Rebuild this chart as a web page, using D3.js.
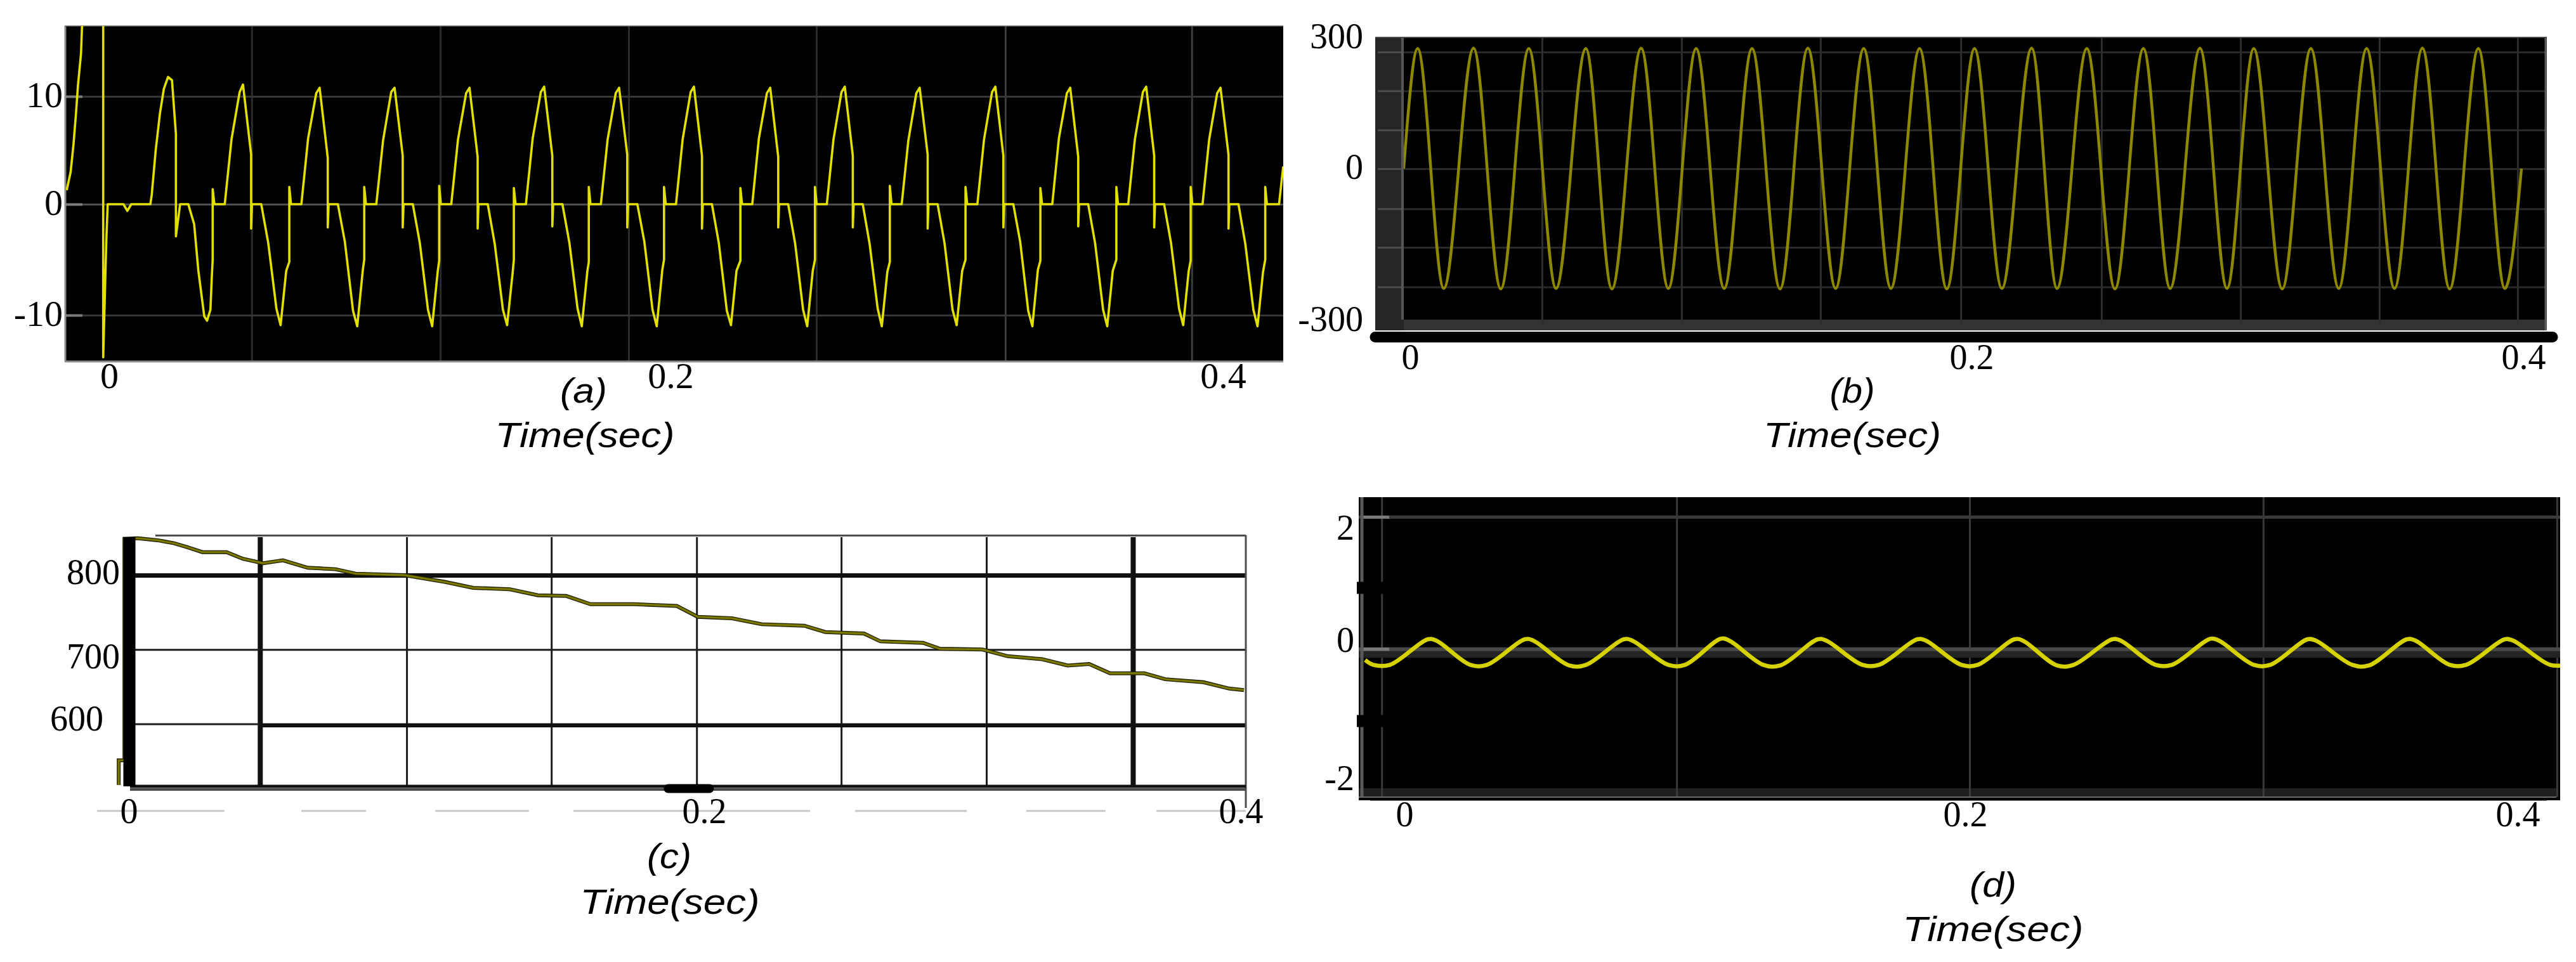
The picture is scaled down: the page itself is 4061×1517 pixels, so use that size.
<!DOCTYPE html>
<html>
<head>
<meta charset="utf-8">
<script src="https://cdn.jsdelivr.net/npm/d3@7"></script>
<style>
  html, body { margin: 0; padding: 0; background: #fff; }
  svg { display: block; }
</style>
</head>
<body>
<div id="fig"></div>
<script>
// ---------- values ----------

// time axis, shared by all panels (seconds)
var timeTicks = [0, 0.2, 0.4];
var xTitle = "Time(sec)";
var captions = ["(a)", "(b)", "(c)", "(d)"];

// (a) current, time in ms
var aTimeMs = [
  -15.1, -13.7, -12.7, -11.8, -11.1, -10.0, -9.3, -2.1, -2.1, -1.0, -0.5, 5.1, 6.5, 7.9, 14.7, 15.2,
  16.6, 18.1, 19.5, 21.0, 22.4, 23.8, 23.8, 25.3, 28.2, 30.3, 31.8, 33.9, 34.9, 36.1, 36.6,
  36.9, 36.9, 37.5, 41.2, 43.6, 46.5, 47.7, 50.6, 50.6, 50.9, 54.2, 56.7, 59.6, 61.1, 63.1,
  64.2, 64.2, 64.8, 68.5, 70.9, 73.8, 75.0, 77.9, 77.9, 78.2, 81.5, 84.0, 86.9, 88.4, 90.4,
  90.9, 90.9, 91.5, 95.2, 97.6, 100.5, 101.7, 104.6, 104.6, 104.9, 108.2, 110.7, 113.6, 115.1, 117.1,
  117.6, 117.6, 118.2, 121.9, 124.3, 127.2, 128.4, 131.3, 131.3, 131.6, 134.9, 137.4, 140.3, 141.8, 143.8,
  144.2, 144.2, 144.8, 148.5, 150.9, 153.8, 155.0, 157.9, 157.9, 158.2, 161.5, 164.0, 166.9, 168.4, 170.4,
  170.9, 170.9, 171.5, 175.2, 177.6, 180.5, 181.7, 184.6, 184.6, 184.9, 188.2, 190.7, 193.6, 195.1, 197.1,
  197.7, 197.7, 198.3, 202.0, 204.4, 207.3, 208.5, 211.4, 211.4, 211.7, 215.0, 217.5, 220.4, 221.9, 223.9,
  225.3, 225.3, 225.9, 229.6, 232.0, 234.9, 236.1, 239.0, 239.0, 239.3, 242.6, 245.1, 248.0, 249.5, 251.5,
  252.3, 252.3, 252.9, 256.6, 259.0, 261.9, 263.1, 266.0, 266.0, 266.3, 269.6, 272.1, 275.0, 276.5, 278.5,
  279.4, 279.4, 280.0, 283.7, 286.1, 289.0, 290.2, 293.1, 293.1, 293.4, 296.7, 299.2, 302.1, 303.6, 305.6,
  306.8, 306.8, 307.4, 311.1, 313.5, 316.4, 317.6, 320.5, 320.5, 320.8, 324.1, 326.6, 329.5, 331.0, 333.0,
  333.9, 333.9, 334.5, 338.2, 340.6, 343.5, 344.7, 347.6, 347.6, 347.9, 351.2, 353.7, 356.6, 358.1, 360.1,
  361.4, 361.4, 362.0, 365.7, 368.1, 371.0, 372.2, 375.1, 375.1, 375.4, 378.7, 381.2, 384.1, 385.6, 387.6,
  388.3, 388.3, 388.9, 392.6, 395.0, 397.9, 399.1, 402.0, 402.0, 402.3, 405.6, 408.1, 411.0, 412.5, 414.5,
  415.3, 415.3, 415.9, 420.3, 421.8
];
var aCurrent = [
  1.3, 3, 5.5, 8.4, 11, 14, 19, 19, -13.8, -3.3, 0, 0, -0.6, 0, 0, 0.9,
  5, 8.4, 10.7, 11.8, 11.5, 6.5, -2.9, 0, 0, -1.8, -6, -10.1, -10.5, -9.5, -6.5,
  -5.0, 1.4, 0, 0, 6.0, 10.4, 11.1, 4.6, -2.2, 0, 0, -3.5, -9.4, -10.9, -6.0,
  -5.2, 1.6, 0, 0, 6.1, 10.3, 10.8, 4.3, -2.1, 0, 0, -3.4, -9.6, -11.0, -5.9,
  -5.0, 1.6, 0, 0, 5.9, 10.4, 10.8, 4.5, -2.1, 0, 0, -3.5, -9.5, -11.0, -6.0,
  -5.1, 1.7, 0, 0, 6.0, 10.3, 10.8, 4.4, -2.2, 0, 0, -3.6, -9.5, -10.9, -6.1,
  -5.0, 1.5, 0, 0, 6.1, 10.4, 10.9, 4.5, -2.0, 0, 0, -3.5, -9.4, -11.0, -6.0,
  -5.2, 1.6, 0, 0, 6.0, 10.3, 10.8, 4.6, -2.1, 0, 0, -3.4, -9.5, -11.0, -5.9,
  -5.0, 1.6, 0, 0, 6.0, 10.4, 10.9, 4.5, -2.2, 0, 0, -3.5, -9.6, -10.9, -6.0,
  -5.1, 1.5, 0, 0, 6.1, 10.3, 10.8, 4.4, -2.1, 0, 0, -3.5, -9.5, -11.0, -6.0,
  -5.0, 1.6, 0, 0, 6.0, 10.4, 10.9, 4.5, -2.1, 0, 0, -3.6, -9.4, -11.0, -6.1,
  -5.2, 1.7, 0, 0, 5.9, 10.3, 10.8, 4.6, -2.2, 0, 0, -3.5, -9.5, -10.9, -6.0,
  -5.0, 1.6, 0, 0, 6.0, 10.4, 10.9, 4.5, -2.1, 0, 0, -3.4, -9.6, -11.0, -5.9,
  -5.1, 1.5, 0, 0, 6.1, 10.3, 10.8, 4.4, -2.0, 0, 0, -3.5, -9.5, -11.0, -6.0,
  -5.0, 1.6, 0, 0, 6.0, 10.4, 10.9, 4.5, -2.1, 0, 0, -3.5, -9.4, -10.9, -6.0,
  -5.1, 1.6, 0, 0, 6.0, 10.3, 10.8, 4.6, -2.2, 0, 0, -3.6, -9.5, -11.0, -6.1,
  -5.0, 1.6, 0, 0, 3.5
];
var aYTicks = [-10, 0, 10];
var aGridTime = [0.0508, 0.1180, 0.1851, 0.2528, 0.3212, 0.3887];
var aGridLevel = [-10, 0, 10];

// (b) voltage: start, then peak / trough pairs, end
var bTime = [
  -0.0023,
  0.0027, 0.0120, 0.0226, 0.0323, 0.0423, 0.0520, 0.0626, 0.0719, 0.0823, 0.0920,
  0.1019, 0.1119, 0.1218, 0.1318, 0.1417, 0.1516, 0.1616, 0.1713, 0.1815, 0.1912,
  0.2011, 0.2110, 0.2218, 0.2310, 0.2418, 0.2520, 0.2623, 0.2720, 0.2828, 0.2926,
  0.3023, 0.3126, 0.3230, 0.3331, 0.3432, 0.3533, 0.3634, 0.3733, 0.3837, 0.3933,
  0.3993
];
var bVoltage = [
  -5,
  270, -241, 271, -242, 270, -241, 270, -242, 271, -241,
  270, -241, 270, -242, 271, -241, 270, -241, 270, -242,
  270, -241, 271, -241, 270, -242, 270, -241, 271, -241,
  270, -242, 270, -241, 270, -241, 271, -242, 270, -241,
  -5
];
var bYTicks = [-300, 0, 300];
var bGridTime = [0.0470, 0.0967, 0.1462, 0.1962, 0.2471, 0.2975, 0.3478, 0.3979];
var bGridLevel = [262, 173, 83, -5, -84, -160, -238];

// (c) speed
var cTime = [
  -0.0035, -0.0035, -0.0015, -0.0015, 0.0031, 0.0100, 0.0157, 0.0200, 0.0256, 0.0340,
  0.0397, 0.0467, 0.0536, 0.0622, 0.0719, 0.0789, 0.0959, 0.1098, 0.1197, 0.1325,
  0.1422, 0.1521, 0.1605, 0.1757, 0.1905, 0.1978, 0.2104, 0.2215, 0.2374, 0.2452,
  0.2596, 0.2657, 0.2816, 0.2879, 0.3038, 0.3132, 0.3260, 0.3355, 0.3435, 0.3513,
  0.3641, 0.3719, 0.3861, 0.3957, 0.4012
];
var cSpeed = [
  518, 551, 551, 849, 849.6, 847, 843, 838, 831, 831,
  822, 816, 820, 810, 808, 802, 800, 791, 783, 781,
  773, 772, 761, 761, 758.6, 744, 742, 734, 732, 723.5,
  721.5, 711, 709, 701, 700, 691, 687, 678.5, 680.5, 668,
  668, 660, 656, 647.5, 645.5
];
var cYTicks = [600, 700, 800];
var cGridTime = [0.0456, 0.0966, 0.1469, 0.1974, 0.2511, 0.3052, 0.3598];
var cGridLevel = [600, 700, 800];
var cDashFrom = [-0.0110, 0.0600, 0.1065, 0.1546, 0.2563, 0.3201, 0.3686];
var cDashTo = [0.0333, 0.0825, 0.1391, 0.2395, 0.2979, 0.3496, 0.4019];
var cDashLevel = 483;

// (d) torque: start, then per cycle trough edges, peak, shoulder
var dTime = [
  -0.0140,
  -0.0111, -0.0051, 0.0084, 0.0114,
  0.0235, 0.0295, 0.0430, 0.0460,
  0.0588, 0.0648, 0.0783, 0.0813,
  0.0941, 0.1001, 0.1129, 0.1159,
  0.1280, 0.1340, 0.1475, 0.1505,
  0.1633, 0.1693, 0.1830, 0.1860,
  0.1986, 0.2046, 0.2179, 0.2209,
  0.2333, 0.2393, 0.2533, 0.2563,
  0.2689, 0.2749, 0.2889, 0.2919,
  0.3045, 0.3105, 0.3240, 0.3270,
  0.3401, 0.3461, 0.3600, 0.3630,
  0.3754, 0.3814, 0.3954, 0.3984,
  0.4117, 0.4177
];
var dTorque = [
  -0.30,
  -0.37, -0.37, 0.0, -0.02,
  -0.37, -0.37, 0.0, -0.02,
  -0.38, -0.37, 0.0, -0.02,
  -0.37, -0.37, 0.01, -0.02,
  -0.37, -0.38, 0.0, -0.02,
  -0.37, -0.37, 0.0, -0.02,
  -0.37, -0.37, 0.0, -0.02,
  -0.38, -0.37, 0.0, -0.02,
  -0.37, -0.37, 0.01, -0.02,
  -0.37, -0.37, 0.0, -0.02,
  -0.37, -0.38, 0.0, -0.02,
  -0.37, -0.37, 0.0, -0.02,
  -0.37, -0.37
];
var dYTicks = [-2, 0, 2];
var dGridTime = [-0.0081, 0.0971, 0.2016, 0.3079, 0.4142];
var dGridLevel = [2.18, -0.20];
var dZeroEdge = -0.14;
var dMarkLevel = [0.92, -1.18];

// ---------- page ----------
var W = 4061, H = 1517;
var svg = d3.select("#fig").append("svg")
    .attr("width", W)
    .attr("height", H)
    .attr("viewBox", "0 0 " + W + " " + H);
svg.append("rect").attr("width", W).attr("height", H).attr("fill", "#fff");
var defs = svg.append("defs");

function zip(xs, ys) {
    return xs.map(function(t, i) { return { t: t, v: ys[i] }; });
}

function clipBox(id, box) {
    defs.append("clipPath").attr("id", id).append("rect")
        .attr("x", box.l).attr("y", box.t)
        .attr("width", box.r - box.l).attr("height", box.b - box.t);
}

function fillBox(g, box, color) {
    return g.append("rect")
        .attr("x", box.l).attr("y", box.t)
        .attr("width", box.r - box.l).attr("height", box.b - box.t)
        .attr("fill", color);
}

// vertical grid lines drawn with a bottom axis
function gridV(g, x, vals, top, bottom, color, width) {
    var a = g.append("g")
        .attr("transform", "translate(0," + bottom + ")")
        .call(d3.axisBottom(x).tickValues(vals).tickSize(-(bottom - top)).tickFormat(""));
    a.select(".domain").remove();
    a.selectAll(".tick line").attr("stroke", color).attr("stroke-width", width);
    return a;
}

// horizontal grid lines drawn with a left axis
function gridH(g, y, vals, left, right, color, width) {
    var a = g.append("g")
        .attr("transform", "translate(" + left + ",0)")
        .call(d3.axisLeft(y).tickValues(vals).tickSize(-(right - left)).tickFormat(""));
    a.select(".domain").remove();
    a.selectAll(".tick line").attr("stroke", color).attr("stroke-width", width);
    return a;
}

function yLabels(g, y, vals, xRight, size, dy) {
    var a = g.append("g")
        .attr("transform", "translate(" + xRight + ",0)")
        .call(d3.axisLeft(y).tickValues(vals).tickSize(0).tickPadding(0)
            .tickFormat(function(d) { return String(d); }));
    a.select(".domain").remove();
    a.attr("font-family", "'Liberation Serif', 'Times New Roman', serif")
        .attr("font-size", size)
        .attr("color", "#000");
    a.selectAll("text").attr("dy", dy);
    return a;
}

function xLabels(g, x, baseline, size) {
    var a = g.append("g")
        .attr("transform", "translate(0," + baseline + ")")
        .call(d3.axisBottom(x).tickValues(timeTicks).tickSize(0).tickPadding(0)
            .tickFormat(function(d) { return String(d); }));
    a.select(".domain").remove();
    a.attr("font-family", "'Liberation Serif', 'Times New Roman', serif")
        .attr("font-size", size)
        .attr("color", "#000");
    a.selectAll("text").attr("y", 0).attr("dy", 0);
    return a;
}

function caption(g, label, cx, base, width) {
    g.append("text")
        .attr("x", cx).attr("y", base)
        .attr("text-anchor", "middle")
        .attr("font-family", "'Liberation Sans', Arial, sans-serif")
        .attr("font-style", "italic")
        .attr("font-size", 55)
        .attr("textLength", width)
        .attr("lengthAdjust", "spacingAndGlyphs")
        .attr("fill", "#000")
        .text(label);
}

function hline(g, x0, x1, y, color, width, cap) {
    g.append("line").attr("x1", x0).attr("x2", x1).attr("y1", y).attr("y2", y)
        .attr("stroke", color).attr("stroke-width", width)
        .attr("stroke-linecap", cap || "butt");
}
function vline(g, x, y0, y1, color, width) {
    g.append("line").attr("x1", x).attr("x2", x).attr("y1", y0).attr("y2", y1)
        .attr("stroke", color).attr("stroke-width", width);
}

// ================= (a) =================
var A = { l: 102, r: 2023, t: 41, b: 570 };
var ax = d3.scaleLinear().domain(timeTicks).range([172, 1057, 1928]);
var ay = d3.scaleLinear().domain([-10, 0, 10]).range([497, 322, 152]);
var ga = svg.append("g");
clipBox("clipA", A);

fillBox(ga, A, "#000");
gridV(ga, ax, aGridTime, A.t, A.b, "#2b2b2b", 3)
    .selectAll(".tick line").filter(function(d) { return d > 0.3; }).attr("stroke", "#3c3c3c");
gridH(ga, ay, aGridLevel, A.l, A.r, "#363636", 3)
    .selectAll(".tick line").filter(function(d) { return d === 0; }).attr("stroke", "#4e4e4e");
gridH(ga, ay, aGridLevel, A.l, A.l + 28, "#7c7c7c", 4);
vline(ga, A.l + 1, A.t, A.b, "#8a8a8a", 3);
hline(ga, A.l, A.r, A.b, "#8a8a8a", 3);
hline(ga, A.l, A.r, A.t, "#6a6a6a", 1.5);

var lineA = d3.line()
    .x(function(d) { return ax(d.t); })
    .y(function(d) { return ay(d.v); });
ga.append("g").attr("clip-path", "url(#clipA)")
    .append("path")
    .datum(zip(aTimeMs.map(function(ms) { return ms / 1000; }), aCurrent))
    .attr("d", lineA)
    .attr("fill", "none")
    .attr("stroke", "#e2e000")
    .attr("stroke-width", 3.6)
    .attr("stroke-linejoin", "round");

yLabels(ga, ay, aYTicks, 99, 58, "0.28em");
xLabels(ga, ax, 612, 58);
caption(ga, captions[0], 920, 635, 74);
caption(ga, xTitle, 922, 705, 283);

// ================= (b) =================
var Bo = { l: 2168, r: 4015, t: 58, b: 521 };
var B = { l: 2213, r: 4012, t: 60, b: 504 };
var bx = d3.scaleLinear().domain(timeTicks).range([2223, 3108, 3978]);
var by = d3.scaleLinear().domain([-300, 0, 300]).range([502, 262, 56]);
var gb = svg.append("g");
clipBox("clipB", B);

fillBox(gb, Bo, "#262626");
fillBox(gb, { l: B.l, r: Bo.r, t: B.b, b: Bo.b }, "#333333");
fillBox(gb, B, "#000");
gridH(gb, by, bGridLevel, B.l, B.r, "#292929", 3);
gridH(gb, by, bGridLevel, Bo.l + 4, B.l, "#4c4c4c", 3);
gridV(gb, bx, bGridTime, B.t, B.b + 10, "#2e2e2e", 3);
vline(gb, B.l - 2, Bo.t, B.b, "#555", 4);
vline(gb, B.r + 1, Bo.t, Bo.b, "#5e5e5e", 3);
hline(gb, Bo.l, Bo.r, Bo.t + 1, "#4a4a4a", 2);
hline(gb, Bo.l, Bo.r + 9, 531.5, "#000", 17, "round");

var lineB = d3.line()
    .curve(d3.curveMonotoneX)
    .x(function(d) { return bx(d.t); })
    .y(function(d) { return by(d.v); });
gb.append("g").attr("clip-path", "url(#clipB)")
    .append("path")
    .datum(zip(bTime, bVoltage))
    .attr("d", lineB)
    .attr("fill", "none")
    .attr("stroke", "#8d8800")
    .attr("stroke-width", 4.5);

yLabels(gb, by, bYTicks, 2149, 56, "0.34em");
xLabels(gb, bx, 582, 56);
caption(gb, captions[1], 2920, 635, 71);
caption(gb, xTitle, 2920, 705, 280);

// ================= (c) =================
var C = { l: 205, r: 1964, t: 847, b: 1240 };
var cx = d3.scaleLinear().domain(timeTicks).range([203, 1110, 1956]);
var cy = d3.scaleLinear().domain([600, 800]).range([1141.5, 907]);
var gc = svg.append("g");
clipBox("clipC", { l: 150, r: C.r, t: C.t - 4, b: C.b });

var cv = gridV(gc, cx, cGridTime, C.t, C.b, "#1c1c1c", 3);
cv.selectAll(".tick line")
    .filter(function(d) { return d === cGridTime[0] || d === cGridTime[cGridTime.length - 1]; })
    .attr("stroke", "#111").attr("stroke-width", 8);
var ch = gridH(gc, cy, cGridLevel, C.l, C.r, "#1c1c1c", 3);
ch.selectAll(".tick line").filter(function(d) { return d === 800; }).attr("stroke", "#111").attr("stroke-width", 7);
// the 600 line turns heavy after the first grid column
gridH(gc, cy, [600], cx(cGridTime[0]), C.r, "#111", 6)
    .attr("transform", "translate(" + cx(cGridTime[0]) + ",2)");
hline(gc, 245, C.r, C.t - 2.5, "#4d4d4d", 3);
vline(gc, C.r, C.t - 3, 1274, "#4d4d4d", 3);
hline(gc, C.l, C.r, C.b, "#111", 5);
hline(gc, C.l, C.r, C.b + 5, "#4a4a4a", 4);

// light dashes under the axis
gc.append("g").selectAll("line")
    .data(cDashFrom.map(function(t, i) { return { t0: t, t1: cDashTo[i] }; }))
    .enter().append("line")
    .attr("x1", function(d) { return cx(d.t0); })
    .attr("x2", function(d) { return cx(d.t1); })
    .attr("y1", cy(cDashLevel)).attr("y2", cy(cDashLevel))
    .attr("stroke", "#c8c8c8").attr("stroke-width", 3);
hline(gc, cx(0.1875), cx(0.2020), cy(513), "#000", 14, "round");

var lineC = d3.line()
    .x(function(d) { return cx(d.t); })
    .y(function(d) { return cy(d.v); });
var cData = zip(cTime, cSpeed);
var cl = gc.append("g").attr("clip-path", "url(#clipC)");
cl.append("path").datum(cData).attr("d", lineC)
    .attr("fill", "none").attr("stroke", "#1e1e00").attr("stroke-width", 6);
cl.append("path").datum(cData).attr("d", lineC)
    .attr("fill", "none").attr("stroke", "#7a7800").attr("stroke-width", 3.4);
vline(gc, 204, C.t, C.b, "#000", 19);

var cl2 = yLabels(gc, cy, cYTicks, 189, 56, "0.34em");
cl2.selectAll("text").filter(function(d) { return d === 600; }).attr("dx", -26).attr("dy", "0.18em");
cl2.selectAll("text").filter(function(d) { return d === 800; }).attr("dy", "0.24em");
cl2.selectAll("text").filter(function(d) { return d === 700; }).attr("dy", "0.52em");
xLabels(gc, cx, 1298, 56);
caption(gc, captions[2], 1055, 1369, 70);
caption(gc, xTitle, 1056, 1441, 283);

// ================= (d) =================
var D = { l: 2142, r: 4036, t: 784, b: 1262 };
var Di = { l: 2150, r: 4036, t: 784, b: 1243 };
var dx = d3.scaleLinear().domain(timeTicks).range([2214, 3098, 3969]);
var dy = d3.scaleLinear().domain([-2, 0, 2]).range([1226, 1008, 831]);
var gd = svg.append("g");
clipBox("clipD", Di);

fillBox(gd, D, "#000");
fillBox(gd, { l: D.l, r: 4030, t: 1243, b: 1257 }, "#1e1e1e");
gridV(gd, dx, dGridTime, D.t, 1257, "#3a3a3a", 3);
gridH(gd, dy, [dGridLevel[0]], D.l, D.r, "#3a3a3a", 5);
gridH(gd, dy, [dGridLevel[1]], D.l, D.r, "#242424", 14);
gridH(gd, dy, [dZeroEdge], D.l, D.r, "#484848", 6);
gridH(gd, dy, [dGridLevel[0], dZeroEdge], D.l + 6, D.l + 48, "#7a7a7a", 5);
vline(gd, D.l + 5, D.t, 1257, "#5a5a5a", 5);
hline(gd, D.l, 4030, 1257, "#6a6a6a", 2);
hline(gd, 2160, 4015, 1261, "#000", 3);
gridH(gd, dy, dMarkLevel, D.l - 3, D.l + 42, "#000", 19);

var lineD = d3.line()
    .curve(d3.curveCatmullRom.alpha(0.5))
    .x(function(d) { return dx(d.t); })
    .y(function(d) { return dy(d.v); });
gd.append("g").attr("clip-path", "url(#clipD)")
    .append("path")
    .datum(zip(dTime, dTorque))
    .attr("d", lineD)
    .attr("fill", "none")
    .attr("stroke", "#d6d200")
    .attr("stroke-width", 6.5)
    .attr("stroke-linejoin", "round");

yLabels(gd, dy, dYTicks, 2135, 56, "0.34em");
xLabels(gd, dx, 1303, 56);
caption(gd, captions[3], 3142, 1414, 74);
caption(gd, xTitle, 3142, 1484, 285);
</script>
</body>
</html>
